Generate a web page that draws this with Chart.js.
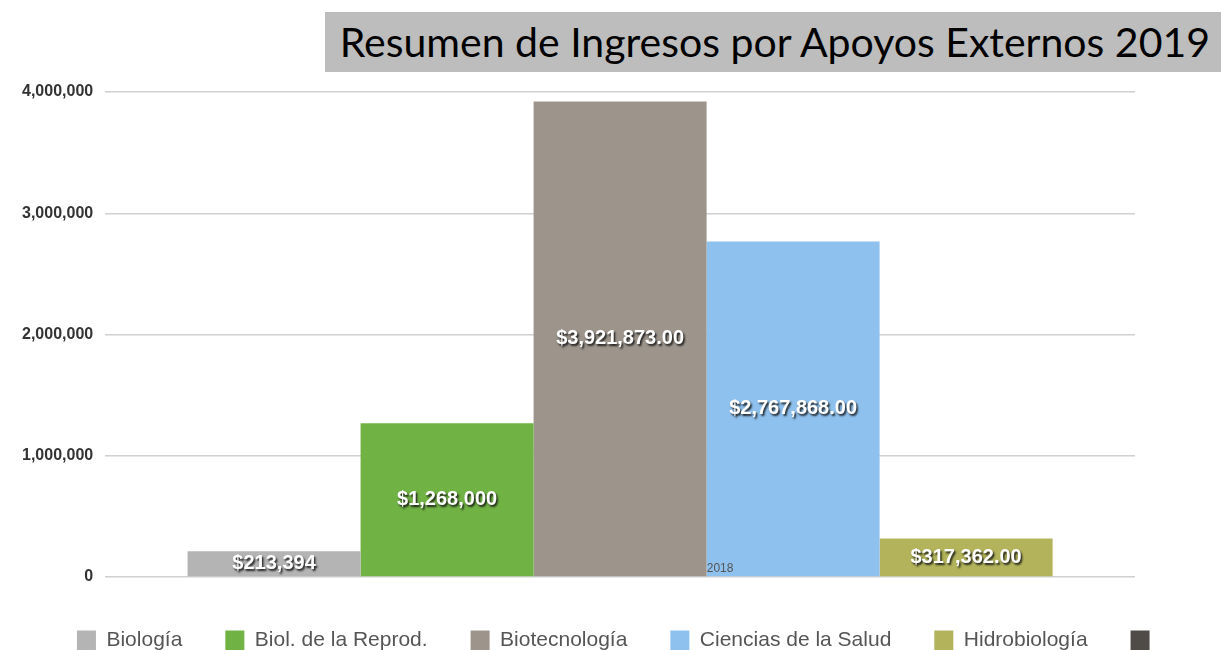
<!DOCTYPE html>
<html>
<head>
<meta charset="utf-8">
<script src="https://cdn.jsdelivr.net/npm/chart.js@4"></script>
<style>
  body { margin: 0; background: #fff; }
  #wrap { position: relative; width: 1221px; height: 650px; }
  #titulo {
    position: absolute; left: 325px; top: 12px; width: 896px; height: 60px;
    background: #bdbdbd; color: #000;
    font-family: 'Lato', 'Open Sans', sans-serif; font-size: 41px;
    line-height: 60px; text-align: right; padding-right: 11px; box-sizing: border-box;
    white-space: nowrap;
  }
</style>
</head>
<body>
<div id="wrap">
  <canvas id="grafica" width="1221" height="650"></canvas>
  <div id="titulo">Resumen de Ingresos por Apoyos Externos 2019</div>
</div>
<script>
// datos
const categorias = ['2018'];
const departamentos = ['Biología', 'Biol. de la Reprod.', 'Biotecnología', 'Ciencias de la Salud', 'Hidrobiología', ''];
const montos = [213394, 1268000, 3921873, 2767868, 317362, null];
const etiquetas = ['$213,394', '$1,268,000', '$3,921,873.00', '$2,767,868.00', '$317,362.00', ''];
const colores = ['#b4b4b4', '#70b244', '#9d958c', '#8fc1ee', '#b2b35a', '#4f4b47'];
const ticksY = [0, 1000000, 2000000, 3000000, 4000000];

const fuente = '"Liberation Sans", Arial, sans-serif';

// etiquetas blancas con sombra dentro de cada barra + el año sobre la base
const etiquetasBarras = {
    id: 'etiquetasBarras',
    afterDatasetsDraw(chart) {
        const ctx = chart.ctx;
        ctx.save();
        ctx.font = 'bold 20px ' + fuente;
        ctx.textAlign = 'center';
        ctx.textBaseline = 'middle';
        chart.data.datasets.forEach((ds, i) => {
            if (!etiquetas[i] || ds.data[0] == null) return;
            const bar = chart.getDatasetMeta(i).data[0];
            const y = (bar.y + bar.base) / 2;
            ctx.shadowColor = 'rgba(20,20,20,0.9)';
            ctx.shadowBlur = 2;
            ctx.shadowOffsetX = 1.5;
            ctx.shadowOffsetY = 2;
            ctx.fillStyle = '#fff';
            ctx.fillText(etiquetas[i], bar.x, y);
        });
        ctx.restore();

        // el año va dibujado encima de las barras, como en el original
        const x = chart.scales.x.getPixelForValue(0) + 100;
        const y0 = chart.scales.y.getPixelForValue(0);
        ctx.save();
        ctx.font = '12px ' + fuente;
        ctx.fillStyle = '#555';
        ctx.textAlign = 'center';
        ctx.textBaseline = 'bottom';
        ctx.fillText(categorias[0], x, y0 - 2);
        ctx.restore();
    }
};

// leyenda: una sola fila, un poco mas abajo y corrida a la derecha
const ajusteLeyenda = {
    id: 'ajusteLeyenda',
    beforeLayout(chart) {
        if (chart.legend && !chart.legend._ajustada) {
            const fitOriginal = chart.legend.fit;
            chart.legend.fit = function () {
                const anchoReal = this.maxWidth;
                this.maxWidth = anchoReal + 200;
                fitOriginal.call(this);
                this.maxWidth = anchoReal;
                this.width = anchoReal;
                this.height -= 11;
            };
            chart.legend._ajustada = true;
        }
    },
    afterLayout(chart) {
        // mas sitio a la derecha para que no salte de linea (centro +46)
        chart.legend.left -= 8;
        chart.legend.right += 100;
    }
};

const datasets = departamentos.map((nombre, i) => ({
    label: nombre,
    data: [montos[i]],
    backgroundColor: colores[i],
    borderWidth: 0
}));

new Chart(document.getElementById('grafica').getContext('2d'), {
    type: 'bar',
    data: { labels: categorias, datasets: datasets },
    options: {
        responsive: false,
        animation: false,
        skipNull: true,
        categoryPercentage: 0.84,
        barPercentage: 1.0,
        layout: { padding: { top: 92, right: 86, left: 10, bottom: 0 } },
        plugins: {
            title: { display: false },
            tooltip: { enabled: false },
            legend: {
                position: 'bottom',
                labels: {
                    boxWidth: 19,
                    boxHeight: 20,
                    padding: 43,
                    color: '#555',
                    font: { size: 21, family: fuente }
                }
            }
        },
        scales: {
            x: {
                grid: { display: false },
                border: { display: false },
                afterFit(scale) { scale.height = 10; },
                ticks: { display: false }
            },
            y: {
                min: 0,
                max: 4000000,
                afterBuildTicks(axis) { axis.ticks = ticksY.map(v => ({ value: v })); },
                border: { display: false },
                grid: { color: '#d0d0d0', lineWidth: 1.5, drawTicks: false },
                ticks: {
                    padding: 12,
                    color: '#333',
                    font: { size: 16, weight: 'bold', family: fuente },
                    callback: v => v.toLocaleString('en-US')
                }
            }
        }
    },
    plugins: [etiquetasBarras, ajusteLeyenda]
});
</script>
</body>
</html>
